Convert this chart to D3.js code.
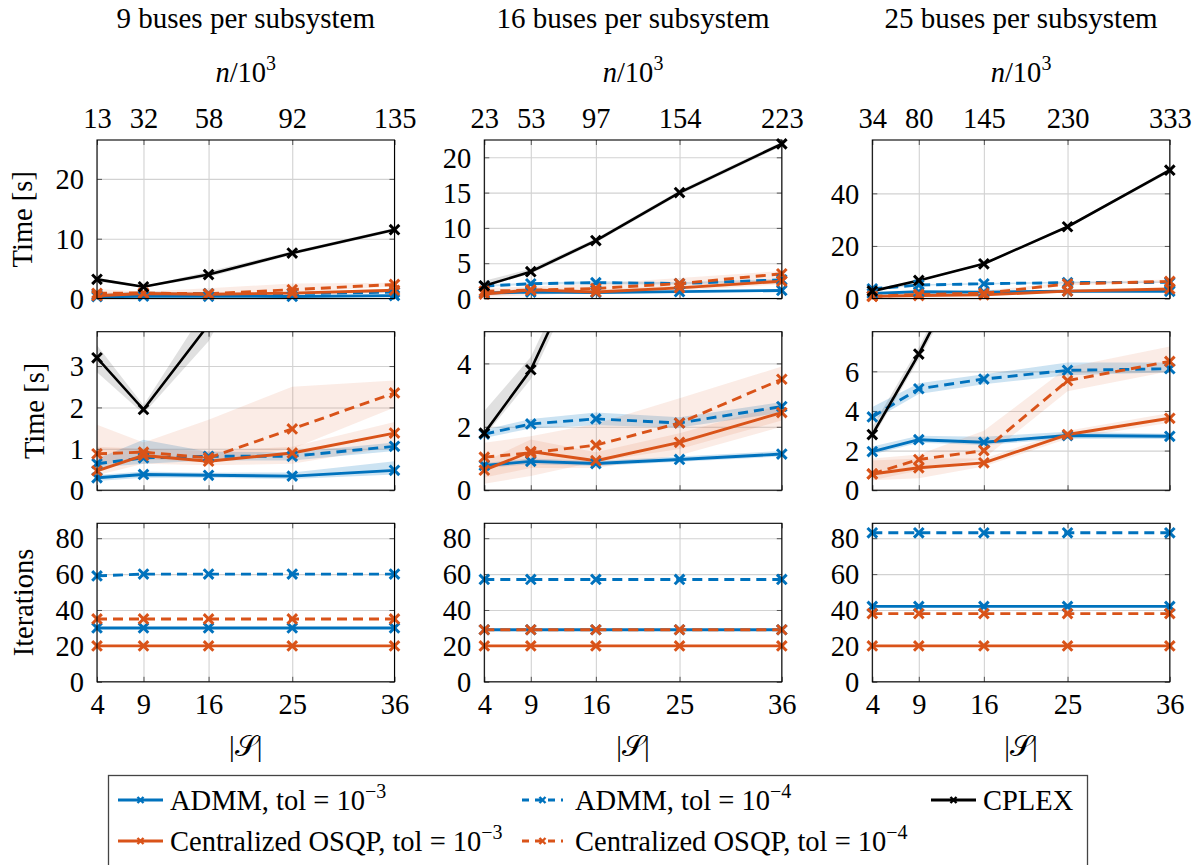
<!DOCTYPE html>
<html><head><meta charset="utf-8">
<script src="https://cdn.jsdelivr.net/npm/d3@7"></script>
</head><body style="margin:0;background:#fff">
<svg id="c" width="1197" height="865" style="font-family:'Liberation Serif'"></svg>
<script>
// ---------------- DATA ----------------
const subsetCounts = [4, 9, 16, 25, 36];
const nTicks9 = [13, 32, 58, 92, 135];
const nTicks16 = [23, 53, 97, 154, 223];
const nTicks25 = [34, 80, 145, 230, 333];
const titles = ["9 buses per subsystem", "16 buses per subsystem", "25 buses per subsystem"];

// 9 buses per subsystem: solve time [s] (mean, min, max)
const t9Admm3 = [0.30, 0.38, 0.36, 0.34, 0.48];
const t9Admm3Lo = [0.22, 0.30, 0.30, 0.27, 0.38];
const t9Admm3Hi = [0.37, 0.45, 0.42, 0.43, 0.70];
const t9Admm4 = [0.64, 0.78, 0.82, 0.82, 1.06];
const t9Admm4Lo = [0.55, 0.64, 0.72, 0.72, 0.95];
const t9Admm4Hi = [0.76, 1.22, 0.93, 0.92, 1.15];
const t9Osqp3 = [0.47, 0.84, 0.70, 0.90, 1.38];
const t9Osqp3Lo = [0.36, 0.64, 0.60, 0.64, 1.05];
const t9Osqp3Hi = [1.05, 1.00, 0.95, 1.05, 1.65];
const t9Osqp4 = [0.88, 0.92, 0.78, 1.48, 2.35];
const t9Osqp4Lo = [0.60, 0.75, 0.68, 1.00, 2.00];
const t9Osqp4Hi = [1.58, 1.15, 1.70, 2.50, 2.65];
const t9Cplex = [3.2, 1.95, 4.0, 7.6, 11.5];
const t9CplexLo = [2.85, 1.85, 3.6, 7.3, 11.2];
const t9CplexHi = [3.5, 2.05, 4.5, 7.9, 11.8];

// 16 buses per subsystem
const t16Admm3 = [0.78, 0.91, 0.84, 0.97, 1.14];
const t16Admm3Lo = [0.70, 0.82, 0.76, 0.90, 1.06];
const t16Admm3Hi = [0.86, 1.00, 0.92, 1.06, 1.24];
const t16Admm4 = [1.77, 2.09, 2.25, 2.12, 2.64];
const t16Admm4Lo = [1.65, 1.95, 2.05, 1.98, 2.45];
const t16Admm4Hi = [1.90, 2.25, 2.45, 2.30, 2.78];
const t16Osqp3 = [0.63, 1.22, 0.93, 1.51, 2.45];
const t16Osqp3Lo = [0.40, 0.70, 0.70, 1.10, 2.00];
const t16Osqp3Hi = [0.90, 1.60, 1.20, 1.80, 2.70];
const t16Osqp4 = [1.04, 1.18, 1.42, 2.12, 3.50];
const t16Osqp4Lo = [0.20, 0.45, 0.90, 1.30, 2.20];
const t16Osqp4Hi = [1.50, 1.70, 2.10, 2.90, 3.90];
const t16Cplex = [1.8, 3.8, 8.2, 15.0, 21.9];
const t16CplexLo = [1.7, 3.5, 7.9, 14.7, 21.6];
const t16CplexHi = [2.5, 4.2, 8.5, 15.3, 22.2];

// 25 buses per subsystem
const t25Admm3 = [1.95, 2.55, 2.42, 2.76, 2.72];
const t25Admm3Lo = [1.80, 2.40, 2.28, 2.60, 2.58];
const t25Admm3Hi = [2.20, 2.75, 2.70, 2.95, 2.85];
const t25Admm4 = [3.70, 5.12, 5.61, 6.05, 6.13];
const t25Admm4Lo = [3.50, 4.85, 5.35, 5.80, 5.95];
const t25Admm4Hi = [4.20, 5.40, 5.85, 6.45, 6.45];
const t25Osqp3 = [0.82, 1.13, 1.38, 2.81, 3.63];
const t25Osqp3Lo = [0.50, 0.60, 1.20, 2.60, 3.40];
const t25Osqp3Hi = [1.50, 1.60, 1.60, 3.00, 3.90];
const t25Osqp4 = [0.82, 1.55, 2.00, 5.53, 6.50];
const t25Osqp4Lo = [0.50, 1.00, 1.60, 5.00, 6.00];
const t25Osqp4Hi = [1.60, 1.80, 3.00, 6.20, 7.25];
const t25Cplex = [2.81, 6.87, 13.2, 27.3, 48.8];
const t25CplexLo = [2.6, 6.6, 12.7, 26.8, 48.0];
const t25CplexHi = [3.2, 7.2, 13.7, 27.8, 49.6];

// iterations
const it9Admm3 = [30, 30, 30, 30, 30];
const it9Admm4 = [59, 60, 60, 60, 60];
const it9Osqp3 = [20, 20, 20, 20, 20];
const it9Osqp4 = [35, 35, 35, 35, 35];
const it16Admm3 = [29, 29, 29, 29, 29];
const it16Admm4 = [57, 57, 57, 57, 57];
const it16Osqp3 = [20, 20, 20, 20, 20];
const it16Osqp4 = [29, 29, 29, 29, 29];
const it25Admm3 = [42, 42, 42, 42, 42];
const it25Admm4 = [83, 83, 83, 83, 83];
const it25Osqp3 = [20, 20, 20, 20, 20];
const it25Osqp4 = [38, 38, 38, 38, 38];

// axis limits and ticks
const timeMaxFull = [26.5, 22.45, 60.3];
const timeTicksFull = [[0, 10, 20], [0, 5, 10, 15, 20], [0, 20, 40]];
const timeMaxZoom = [3.83, 5, 8];
const timeTicksZoom = [[0, 1, 2, 3], [0, 2, 4], [0, 2, 4, 6]];
const iterMax = 88.3;
const iterTicks = [0, 20, 40, 60, 80];

const legendLabels = [
  ["ADMM, tol = 10", "−3"], ["ADMM, tol = 10", "−4"], ["CPLEX", null],
  ["Centralized OSQP, tol = 10", "−3"], ["Centralized OSQP, tol = 10", "−4"]
];

// ---------------- STYLE / LAYOUT ----------------
const FONT = "'Liberation Serif'";
const BLUE = "#0072BD", ORANGE = "#D95319";
const seriesStyle = {
  admm3: {color: BLUE, dash: null, band: 0.2},
  admm4: {color: BLUE, dash: "10,6", band: 0.2},
  osqp3: {color: ORANGE, dash: null, band: 0.11},
  osqp4: {color: ORANGE, dash: "10,6", band: 0.11},
  cplex: {color: "#000", dash: null, band: 0.12}
};
const colLeft = [97, 484.3, 872.3], W = 297.5;
const rowTop = [140, 331.7, 523.3], H = 158.5;
const FS = 28.5, SUP = 20;

const timeData = [
  {admm3: [t9Admm3, t9Admm3Lo, t9Admm3Hi], admm4: [t9Admm4, t9Admm4Lo, t9Admm4Hi],
   osqp3: [t9Osqp3, t9Osqp3Lo, t9Osqp3Hi], osqp4: [t9Osqp4, t9Osqp4Lo, t9Osqp4Hi],
   cplex: [t9Cplex, t9CplexLo, t9CplexHi]},
  {admm3: [t16Admm3, t16Admm3Lo, t16Admm3Hi], admm4: [t16Admm4, t16Admm4Lo, t16Admm4Hi],
   osqp3: [t16Osqp3, t16Osqp3Lo, t16Osqp3Hi], osqp4: [t16Osqp4, t16Osqp4Lo, t16Osqp4Hi],
   cplex: [t16Cplex, t16CplexLo, t16CplexHi]},
  {admm3: [t25Admm3, t25Admm3Lo, t25Admm3Hi], admm4: [t25Admm4, t25Admm4Lo, t25Admm4Hi],
   osqp3: [t25Osqp3, t25Osqp3Lo, t25Osqp3Hi], osqp4: [t25Osqp4, t25Osqp4Lo, t25Osqp4Hi],
   cplex: [t25Cplex, t25CplexLo, t25CplexHi]}
];
const iterData = [
  {admm3: [it9Admm3], admm4: [it9Admm4], osqp3: [it9Osqp3], osqp4: [it9Osqp4]},
  {admm3: [it16Admm3], admm4: [it16Admm4], osqp3: [it16Osqp3], osqp4: [it16Osqp4]},
  {admm3: [it25Admm3], admm4: [it25Admm4], osqp3: [it25Osqp3], osqp4: [it25Osqp4]}
];
const nTicksAll = [nTicks9, nTicks16, nTicks25];
const order = ["admm3", "admm4", "osqp3", "osqp4", "cplex"];

const svg = d3.select("#c");
const markPath = "M-4.8,-4.8L4.8,4.8M-4.8,4.8L4.8,-4.8";

function serif(sel, size) {
  return sel.attr("font-family", "Liberation Serif").attr("font-size", size || FS)
    .style("font-family", FONT).style("font-size", (size || FS) + "px").attr("fill", "#000");
}
function styleText(g) {
  g.attr("font-family", "Liberation Serif").attr("font-size", FS);
  serif(g.selectAll("text"));
}

function drawPanel(ci, ri, ymax, yticks, data) {
  const x0 = colLeft[ci], y0 = rowTop[ri];
  const x = d3.scaleLinear().domain([4, 36]).range([x0, x0 + W]);
  const y = d3.scaleLinear().domain([0, ymax]).range([y0 + H, y0]);
  const id = "clip" + ci + ri;
  svg.append("clipPath").attr("id", id).append("rect")
    .attr("x", x0).attr("y", y0).attr("width", W).attr("height", H);

  // grid
  const gx = svg.append("g").attr("transform", `translate(0,${y0 + H})`)
    .call(d3.axisBottom(x).tickValues(subsetCounts).tickSize(-H).tickFormat(""));
  const gy = svg.append("g").attr("transform", `translate(${x0},0)`)
    .call(d3.axisLeft(y).tickValues(yticks).tickSize(-W).tickFormat(""));
  [gx, gy].forEach(g => { g.select(".domain").remove(); g.selectAll("line").attr("stroke", "#d2d2d2").attr("stroke-width", 1.1); });

  // tick marks (inside, mirrored)
  const tl = [
    svg.append("g").attr("transform", `translate(0,${y0 + H})`).call(d3.axisBottom(x).tickValues(subsetCounts).tickSize(-5).tickFormat("")),
    svg.append("g").attr("transform", `translate(0,${y0})`).call(d3.axisTop(x).tickValues(subsetCounts).tickSize(-5).tickFormat("")),
    svg.append("g").attr("transform", `translate(${x0},0)`).call(d3.axisLeft(y).tickValues(yticks).tickSize(-5).tickFormat("")),
    svg.append("g").attr("transform", `translate(${x0 + W},0)`).call(d3.axisRight(y).tickValues(yticks).tickSize(-5).tickFormat(""))
  ];
  tl.forEach(g => { g.select(".domain").remove(); g.selectAll("line").attr("stroke", "#555").attr("stroke-width", 1); });

  // y tick labels
  const yl = svg.append("g").attr("transform", `translate(${x0},0)`)
    .call(d3.axisLeft(y).tickValues(yticks).tickSize(0).tickPadding(13).tickFormat(d3.format("d")));
  yl.select(".domain").remove();
  styleText(yl);
  yl.selectAll("text").attr("dy", "0.34em");

  // bands and lines (clipped)
  const gc = svg.append("g").attr("clip-path", `url(#${id})`);
  order.forEach(k => {
    if (!data[k]) return;
    const st = seriesStyle[k];
    const [m, lo, hi] = data[k];
    if (lo) {
      const area = d3.area().x((d, i) => x(subsetCounts[i])).y0((d, i) => y(lo[i])).y1((d, i) => y(hi[i]));
      gc.append("path").datum(m).attr("d", area).attr("fill", st.color).attr("fill-opacity", st.band);
    }
  });
  order.forEach(k => {
    if (!data[k]) return;
    const st = seriesStyle[k];
    const m = data[k][0];
    const line = d3.line().x((d, i) => x(subsetCounts[i])).y(d => y(d));
    gc.append("path").datum(m).attr("d", line).attr("fill", "none")
      .attr("stroke", st.color).attr("stroke-width", k === "cplex" ? 2.6 : 2.9)
      .attr("stroke-dasharray", st.dash).attr("stroke-linejoin", "round");
    svg.append("g").selectAll("path").data(m.map((v, i) => [subsetCounts[i], v]).filter(d => d[1] <= ymax))
      .join("path").attr("d", markPath)
      .attr("transform", d => `translate(${x(d[0])},${y(d[1])})`)
      .attr("stroke", st.color).attr("stroke-width", 3).attr("fill", "none");
  });

  // frame
  svg.append("rect").attr("x", x0).attr("y", y0).attr("width", W).attr("height", H)
    .attr("fill", "none").attr("stroke", "#000").attr("stroke-width", 1.1);

  // top axis labels (n/10^3)
  if (ri === 0) {
    const nt = nTicksAll[ci];
    const gt = svg.append("g").attr("transform", `translate(0,${y0})`)
      .call(d3.axisTop(x).tickValues(subsetCounts).tickSize(0).tickPadding(12).tickFormat((d, i) => nt[i]));
    gt.select(".domain").remove();
    styleText(gt);
    const nl = serif(svg.append("text").attr("x", x0 + W / 2).attr("y", 82).attr("text-anchor", "middle"));
    nl.append("tspan").attr("font-style", "italic").text("n");
    nl.append("tspan").text("/10");
    nl.append("tspan").attr("font-size", SUP).style("font-size", SUP + "px").attr("dy", -12).text("3");
    serif(svg.append("text").attr("x", x0 + W / 2).attr("y", 28).attr("text-anchor", "middle"), 29).text(titles[ci]);
  }
  if (ri === 2) {
    const gb = svg.append("g").attr("transform", `translate(0,${y0 + H})`)
      .call(d3.axisBottom(x).tickValues(subsetCounts).tickSize(0).tickPadding(12));
    gb.select(".domain").remove();
    styleText(gb);
    serif(svg.append("text").attr("x", x0 + W / 2).attr("y", 756).attr("text-anchor", "middle")).text("|𝒮|");
  }
}

for (let ci = 0; ci < 3; ci++) {
  drawPanel(ci, 0, timeMaxFull[ci], timeTicksFull[ci], timeData[ci]);
  drawPanel(ci, 1, timeMaxZoom[ci], timeTicksZoom[ci], timeData[ci]);
  drawPanel(ci, 2, iterMax, iterTicks, iterData[ci]);
}

// y-axis titles
[["Time [s]", 32, rowTop[0] + H / 2], ["Time [s]", 44, rowTop[1] + H / 2], ["Iterations", 33, rowTop[2] + H / 2]]
  .forEach(([t, bx, cy]) => {
    serif(svg.append("text").attr("transform", `translate(${bx},${cy}) rotate(-90)`)
      .attr("text-anchor", "middle")).text(t);
  });

// legend
svg.append("rect").attr("x", 108.5).attr("y", 775.5).attr("width", 979).attr("height", 110)
  .attr("fill", "#fff").attr("stroke", "#444").attr("stroke-width", 1.3);
const legendPos = [
  {k: "admm3", sx: 118, tx: 170, y: 800},
  {k: "admm4", sx: 522, tx: 575, y: 800},
  {k: "cplex", sx: 931, tx: 983, y: 800},
  {k: "osqp3", sx: 118, tx: 170, y: 841},
  {k: "osqp4", sx: 522, tx: 575, y: 841}
];
legendPos.forEach((p, i) => {
  const st = seriesStyle[p.k];
  const len = p.k.endsWith("4") ? 41 : 45;
  svg.append("line").attr("x1", p.sx).attr("x2", p.sx + len).attr("y1", p.y).attr("y2", p.y)
    .attr("stroke", st.color).attr("stroke-width", 2.8).attr("stroke-dasharray", st.dash ? "7,6" : null);
  svg.append("path").attr("d", "M-3,-3L3,3M-3,3L3,-3").attr("transform", `translate(${p.sx + len / 2},${p.y})`)
    .attr("stroke", st.color).attr("stroke-width", 2.4);
  const [main, sup] = legendLabels[i];
  const t = serif(svg.append("text").attr("x", p.tx).attr("y", p.y + 10));
  t.append("tspan").text(main);
  if (sup) t.append("tspan").attr("font-size", SUP).style("font-size", SUP + "px").attr("dy", -12).text(sup);
});
</script>
</body></html>
